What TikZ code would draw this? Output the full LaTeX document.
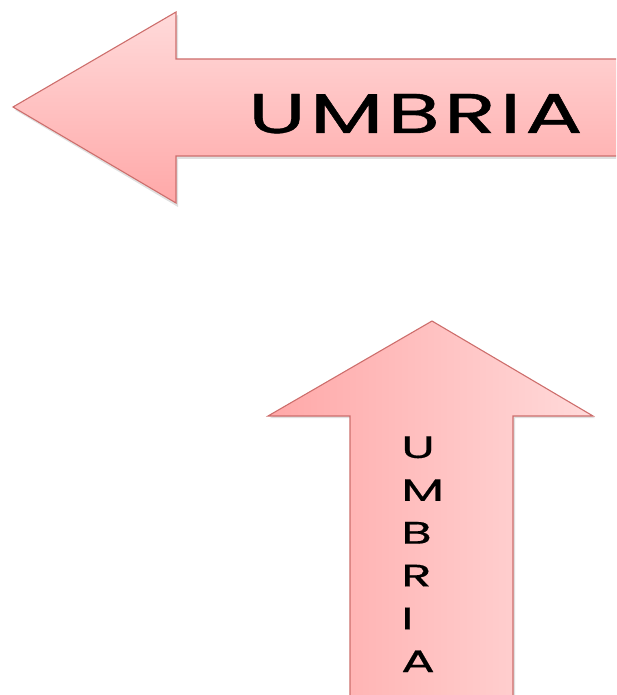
\documentclass[tikz,border=0pt]{standalone}
\usepackage{fontspec}
\setmainfont{Poppins}
\newfontfamily\widefont[LetterSpace=5,FakeBold=0.7]{Poppins}
\newfontfamily\stackfont[FakeBold=0.5]{Poppins}
\definecolor{arrowline}{RGB}{205,110,108}
\definecolor{pinklight}{RGB}{255,218,218}
\definecolor{pinkdark}{RGB}{255,168,168}
\tikzset{
  arrowshape/.style={draw=arrowline, line width=1.1pt, line join=miter},
  shadowshape/.style={fill=black, opacity=0.12},
  labeltext/.style={inner sep=0pt, text=black},
}
\begin{document}
\begin{tikzpicture}[x=1pt,y=-1pt]
  \useasboundingbox (0,0) rectangle (616,695);
  \clip (0,0) rectangle (616,695);
  % soft shadows
  \fill[shadowshape] (15,110) -- (178,15) -- (178,62) -- (640,62) -- (640,159) -- (178,159) -- (178,207) -- cycle;
  \fill[shadowshape] (434,323) -- (595,418) -- (515,418) -- (515,720) -- (352,720) -- (352,418) -- (270,418) -- cycle;
  % left-pointing arrow
  \path[arrowshape, top color=pinklight, bottom color=pinkdark]
    (13,107) -- (176,12) -- (176,59) -- (640,59) -- (640,156) -- (176,156) -- (176,203) -- cycle;
  \node[labeltext, anchor=base west, xscale=1.52, font=\widefont\fontsize{56}{56}\selectfont] (lefttext) at (248,133) {UMBRIA};
  % up-pointing arrow
  \path[arrowshape, left color=pinkdark, right color=pinklight]
    (432,321) -- (593,416) -- (513,416) -- (513,720) -- (350,720) -- (350,416) -- (268,416) -- cycle;
  \foreach \ch [count=\i from 0] in {U,M,B,R,I,A} {
    \node[labeltext, anchor=base west, xscale=1.6, font=\stackfont\fontsize{31}{31}\selectfont] (up\i) at (401,458+42.8*\i) {\ch};
  }
\end{tikzpicture}
\end{document}
